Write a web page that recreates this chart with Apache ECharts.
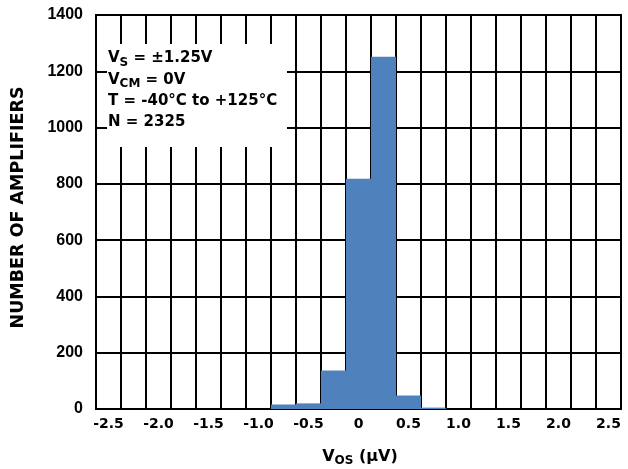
<!DOCTYPE html>
<html><head><meta charset="utf-8">
<script src="https://cdn.jsdelivr.net/npm/echarts@6/dist/echarts.min.js"></script>
<style>html,body{margin:0;padding:0;background:#fff}#c{width:628px;height:469px}</style>
</head><body><div id="c"></div>
<script>
// Bin centres (µV), bin width 0.25
const categories = ['-2.5','-2.25','-2.0','-1.75','-1.5','-1.25','-1.0','-0.75','-0.5','-0.25','0','0.25','0.5','0.75','1.0','1.25','1.5','1.75','2.0','2.25','2.5'];
// Number of amplifiers per bin
const counts = [0,0,0,0,0,0,0,16,20,137,818,1252,48,5,0,0,0,0,0,0,0];
// Y axis ticks
const yMin = 0, yMax = 1400, yStep = 200;
// Annotation lines
const noteLines = [
  '{m|V}{s|S}{m| = ±1.25V}',
  '{m|V}{s|CM}{m| = 0V}',
  '{m|T = -40°C to +125°C}',
  '{m|N = 2325}'
];
const yTitle = 'NUMBER OF AMPLIFIERS';
const xTitle = '{m|V}{s|OS}{m| (µV)}';

const chart = echarts.init(document.getElementById('c'), null, {renderer:'canvas'});
const FB = 'DejaVu Sans';
const richNote = {
  m:{fontSize:15,fontWeight:'bold',fontFamily:FB,fill:'#000'},
  s:{fontSize:12,fontWeight:'bold',fontFamily:FB,fill:'#000',padding:[8,0,0,0]}
};
const noteY = [58.5, 80, 101.3, 122.6];
const graphics = [
  {type:'rect', z:100, shape:{x:107,y:44,width:180,height:103}, style:{fill:'#fff'}}
];
noteLines.forEach((t,i)=>{
  graphics.push({type:'text', z:101, x:108, y:noteY[i],
    style:{text:t, rich:richNote, textAlign:'left', textVerticalAlign:'middle', verticalAlign:'middle', fill:'#000'}});
});
graphics.push({type:'text', z:101, x:18.8, y:207.5, rotation:Math.PI/2,
  style:{text:yTitle, font:'bold 17.5px "DejaVu Sans"', fill:'#000', textAlign:'center', textVerticalAlign:'middle', verticalAlign:'middle', align:'center'}});
graphics.push({type:'text', z:101, x:360, y:457,
  style:{text:xTitle, rich:{
    m:{fontSize:16,fontWeight:'bold',fontFamily:FB,fill:'#000'},
    s:{fontSize:12,fontWeight:'bold',fontFamily:FB,fill:'#000',padding:[8,0,0,0]}
  }, textAlign:'center', align:'center', textVerticalAlign:'middle', verticalAlign:'middle'}});

chart.setOption({
  animation:false,
  backgroundColor:'#fff',
  grid:{left:96, top:15, width:525, height:394, show:true, borderColor:'#000', borderWidth:2, backgroundColor:'transparent'},
  xAxis:{
    type:'category', data:categories, boundaryGap:true,
    axisLine:{show:true, lineStyle:{color:'#000', width:2}},
    axisTick:{show:false},
    axisLabel:{interval:1, color:'#000', fontFamily:FB, fontWeight:'bold', fontSize:14, margin:8},
    splitLine:{show:true, interval:0, lineStyle:{color:'#000', width:2}}
  },
  yAxis:{
    type:'value', min:yMin, max:yMax, interval:yStep,
    axisLine:{show:true, lineStyle:{color:'#000', width:2}},
    axisTick:{show:false},
    axisLabel:{color:'#000', fontFamily:'"Liberation Sans", Arial, sans-serif', fontWeight:'bold', fontSize:16, margin:13,
      formatter:(v)=>String(v)},
    splitLine:{show:true, lineStyle:{color:'#000', width:2}}
  },
  series:[{
    type:'bar', data:counts, barCategoryGap:'0%', barGap:'0%',
    itemStyle:{color:'#4F81BD'}, z:5
  }],
  graphic:graphics
});
</script></body></html>
